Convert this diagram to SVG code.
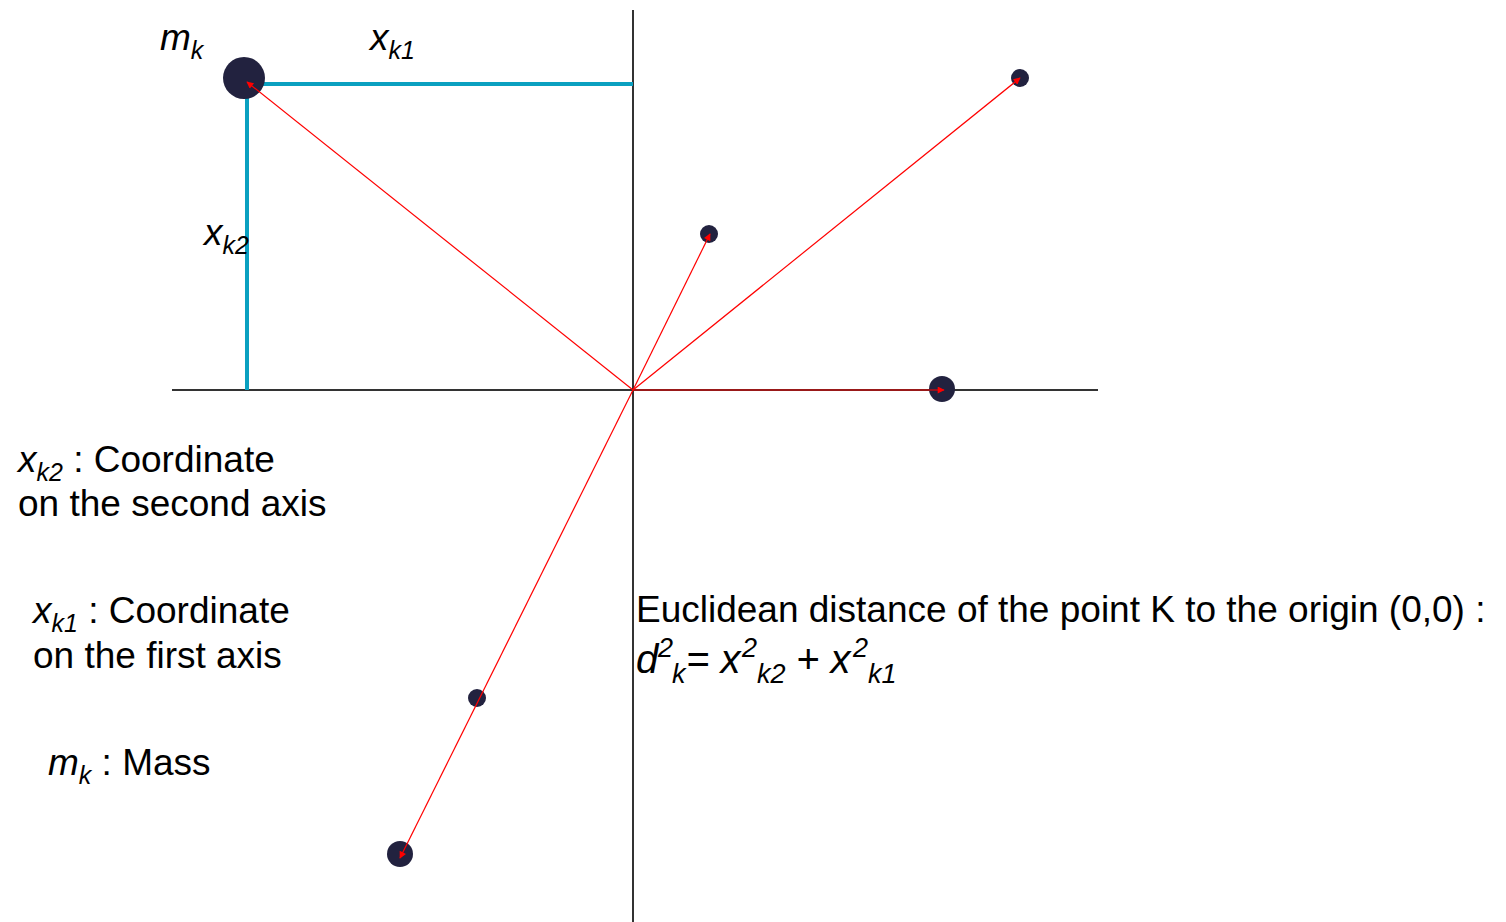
<svg xmlns="http://www.w3.org/2000/svg" width="1506" height="922" viewBox="0 0 1506 922">
<style>
.t{font-family:"Liberation Sans",Arial,sans-serif;font-size:37px;fill:#000}
.i{font-style:italic}
.s{font-size:25px}
.f{font-size:40px}
.fs{font-size:27px}
.ax{stroke:#333;stroke-width:2;fill:none}
.cy{stroke:#0aa0c0;stroke-width:4;fill:none}
.rd{stroke:#ff0000;stroke-width:1.2;fill:none;marker-end:url(#ah)}
.pt{fill:#22223f}
</style>
<defs>
<marker id="ah" viewBox="0 0 10 10" refX="9" refY="5" markerWidth="9" markerHeight="7" markerUnits="userSpaceOnUse" orient="auto">
<path d="M0,0 L10,5 L0,10 z" fill="#ff0000"/>
</marker>
</defs>
<rect width="1506" height="922" fill="#fff"/>
<g id="axes">
<line class="ax" x1="633" y1="10" x2="633" y2="922"/>
<line class="ax" x1="172" y1="390" x2="1098" y2="390"/>
</g>
<g id="coords">
<polyline class="cy" points="633,84 247,84 247,390"/>
</g>
<g id="p-mk"><circle class="pt" cx="244" cy="78" r="21"/></g>
<g id="p2"><circle class="pt" cx="709" cy="234" r="9"/></g>
<g id="p3"><circle class="pt" cx="1020" cy="78" r="9"/></g>
<g id="p4"><circle class="pt" cx="942" cy="389" r="13"/></g>
<g id="p5"><circle class="pt" cx="477" cy="698" r="9"/></g>
<g id="p6"><circle class="pt" cx="400" cy="854" r="13"/></g>
<g id="connectors">
<line class="rd" x1="633" y1="390" x2="247" y2="82"/>
<line class="rd" x1="633" y1="390" x2="710" y2="234"/>
<line class="rd" x1="633" y1="390" x2="1020" y2="78"/>
<line class="rd" x1="633" y1="390" x2="944" y2="390"/>
<line class="rd" x1="633" y1="390" x2="400" y2="858"/>
</g>
<g id="labels">
<text class="t i" x="160" y="50">m<tspan class="s" dy="9">k</tspan></text>
<text class="t i" x="370" y="50">x<tspan class="s" dy="9">k1</tspan></text>
<text class="t i" x="204" y="245">x<tspan class="s" dy="9">k2</tspan></text>
<text class="t" x="18" y="472"><tspan class="i">x</tspan><tspan class="i s" dy="9">k2</tspan><tspan dy="-9"> : Coordinate</tspan></text>
<text class="t" x="18" y="516">on the second axis</text>
<text class="t" x="33" y="623"><tspan class="i">x</tspan><tspan class="i s" dy="9">k1</tspan><tspan dy="-9"> : Coordinate</tspan></text>
<text class="t" x="33" y="668">on the first axis</text>
<text class="t" x="48" y="775"><tspan class="i">m</tspan><tspan class="i s" dy="9">k</tspan><tspan dy="-9"> : Mass</tspan></text>
<text class="t" x="636" y="622">Euclidean distance of the point K to the origin (0,0) :</text>
<text class="t i f" x="636" y="673">d<tspan class="fs" x="658" y="657">2</tspan><tspan class="fs" x="672" y="683">k</tspan><tspan x="686" y="673">= x</tspan><tspan class="fs" x="742" y="657">2</tspan><tspan class="fs" x="757" y="683">k2</tspan><tspan x="796" y="673">+ x</tspan><tspan class="fs" x="853" y="657">2</tspan><tspan class="fs" x="868" y="683">k1</tspan></text>
</g>
</svg>
